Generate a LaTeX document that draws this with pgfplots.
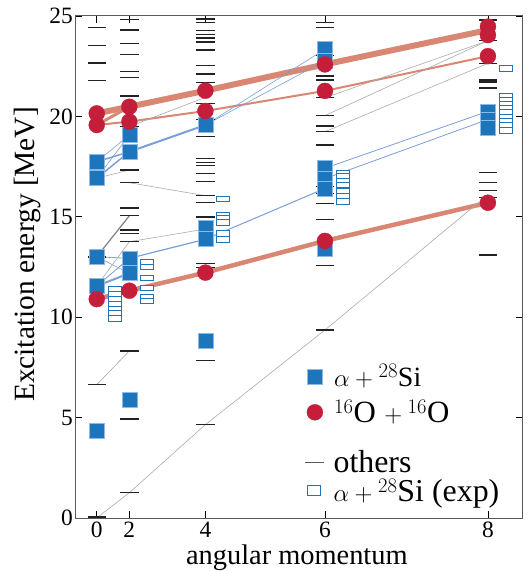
\documentclass[border=0pt]{standalone}
\usepackage{fontspec}
\setmainfont{Liberation Serif}
\usepackage{pgfplots}
\pgfplotsset{compat=1.18}

\definecolor{sqblue}{HTML}{1D75BC}
\definecolor{sqedge}{HTML}{8DB9E2}
\definecolor{cred}{HTML}{C41E3A}
\definecolor{salmon}{HTML}{D98673}
\definecolor{lblue}{HTML}{7A9EDC}
\definecolor{lgray}{HTML}{ABABAB}
\definecolor{dash}{HTML}{222222}
\definecolor{axgray}{HTML}{5A5A5A}

% flat open rectangle for the measured levels
\pgfdeclareplotmark{flatrect}{%
  \pgfpathrectangle{\pgfpoint{-6.5bp}{-2.8bp}}{\pgfpoint{13bp}{5.6bp}}%
  \pgfusepathqfillstroke}
\pgfdeclareplotmark{legrect}{%
  \pgfpathrectangle{\pgfpoint{-6.5bp}{-5bp}}{\pgfpoint{13bp}{10bp}}%
  \pgfusepathqfillstroke}

\pgfplotsset{
  sq/.style={only marks, mark=square*, mark size=7.5bp,
    mark options={fill=sqblue, draw=sqedge, line width=0.6bp}},
  ci/.style={only marks, mark=*, mark size=8bp,
    mark options={fill=cred, draw=cred, line width=0.3bp}},
  oth/.style={only marks, mark=-, mark size=9.2bp,
    mark options={draw=dash, line width=1.4bp}},
  ex/.style={only marks, mark=flatrect,
    mark options={fill=white, draw=sqblue, line width=0.9bp}},
  bl/.style={lblue, line width=#1, forget plot}, bl/.default=0.6bp,
  gl/.style={lgray, line width=#1, forget plot}, gl/.default=0.6bp,
  sal/.style={salmon, line width=#1, forget plot},
  limg/.style={legend image code/.code={%
    \draw[mark repeat=2,mark phase=2,##1] plot coordinates {(0bp,0bp)(7.5bp,0bp)(15bp,0bp)};
    \path (0bp,0bp) (26.5bp,0bp);}},
  base/.style={width=447.7bp, height=502bp, scale only axis,
    xmin=-4, xmax=78.4, ymin=0, ymax=25},
}

\begin{document}
\begin{tikzpicture}
\begin{axis}[base,
  axis line style={axgray, line width=1bp},
  tick style={black, line width=0.8bp},
  major tick length=7bp,
  tick align=inside,
  xtick={0,6,20,42,72}, xticklabels={0,2,4,6,8},
  ytick={0,5,...,25},
  /pgf/number format/assume math mode=true,
  tick label style={font=\fontsize{23.5}{27}\selectfont},
  yticklabel style={inner xsep=2bp},
  xticklabel style={inner ysep=3.5bp, text depth=0pt},
  xlabel={angular momentum},
  ylabel={Excitation energy [MeV]},
  every axis x label/.style={at={(axis description cs:0.462,0)}, anchor=base,
    inner sep=0pt, xshift=15bp, yshift=-46bp, font=\fontsize{28.5}{34}\selectfont},
  every axis y label/.style={at={(axis description cs:-0.107,0.525)}, rotate=90,
    anchor=center, font=\fontsize{29.5}{36}\selectfont},
  legend style={at={(axis description cs:0.5175,0.306)}, anchor=north west,
    draw=none, fill=none, inner sep=0pt, row sep=12bp,
    font=\fontsize{28}{32}\selectfont, nodes={inner sep=0bp}, cells={anchor=west}},
  clip=false,
]
% rotational bands of 16O+16O
\addplot[sal=6bp] coordinates {(0,20.15) (6,20.48) (20,21.28) (42,22.59) (72,24.3)};
\addplot[sal=3bp] coordinates {(0,19.57) (6,20.48)};
\addplot[sal=2bp] coordinates {(0,19.57) (6,19.74) (20,20.27) (42,21.27) (72,23.0)};
\addplot[sal=4.5bp] coordinates {(0,10.9) (6,11.32) (20,12.22) (42,13.8) (72,15.7)};

% links between alpha+28Si states
\addplot[bl] coordinates {(0,17.74) (6,19.07)};
\addplot[bl] coordinates {(0,16.92) (6,19.07)};
\addplot[bl=1.5bp] coordinates {(0,17.74) (6,18.24)};
\addplot[bl=1.5bp] coordinates {(0,16.92) (6,18.24)};
\addplot[bl=2bp] coordinates {(6,18.24) (20,19.57)};
\addplot[bl] coordinates {(20,19.57) (42,23.35)};
\addplot[bl] coordinates {(20,19.57) (42,22.77)};
\addplot[bl=0.8bp] coordinates {(0,13.01) (6,12.93)};
\addplot[bl=0.8bp] coordinates {(0,11.55) (6,12.93)};
\addplot[bl=2bp] coordinates {(0,11.55) (6,12.19)};
\addplot[bl] coordinates {(0,13.01) (6,12.19)};
\addplot[bl=1.2bp] coordinates {(6,12.93) (20,13.88)};
\addplot[bl=1bp] coordinates {(20,13.88) (42,16.41)};
\addplot[bl=0.8bp] coordinates {(42,17.42) (72,20.25)};
\addplot[bl=0.8bp] coordinates {(42,16.9) (72,19.85)};

% links between other states
\addplot[gl] coordinates {(0,0) (6,1.26) (20,4.65) (42,9.36) (72,16.1)};
\addplot[gl] coordinates {(0,6.64) (6,8.32)};
\addplot[gl=1.2bp, gray] coordinates {(0,13.01) (6,15.05)};
\addplot[gl] coordinates {(0,11.55) (6,13.76)};
\addplot[gl] coordinates {(6,13.76) (20,14.39)};
\addplot[gl] coordinates {(0,16.92) (6,17.33)};
\addplot[gl] coordinates {(6,16.70) (20,16.05)};
\addplot[gl] coordinates {(6,19.49) (20,20.95)};
\addplot[gl] coordinates {(42,20.93) (72,23.77)};
\addplot[gl] coordinates {(42,20.04) (72,23.77)};
\addplot[gl] coordinates {(42,19.24) (72,22.64)};

% other levels
\addplot[oth, forget plot] table {
x y
0 24.42
0 23.53
0 22.65
0 21.78
0 13.00
0 6.64
0 0.05
6 24.84
6 24.30
6 23.62
6 23.09
6 22.25
6 21.93
6 21.02
6 19.49
6 17.33
6 16.70
6 15.44
6 15.05
6 14.34
6 14.18
6 13.76
6 8.32
6 4.93
6 1.26
20 24.85
20 24.67
20 24.27
20 24.09
20 23.90
20 23.71
20 23.31
20 22.52
20 22.12
20 21.68
20 20.65
20 19.85
20 18.99
20 17.89
20 17.71
20 17.54
20 17.15
20 16.75
20 16.05
20 15.70
20 14.99
20 12.68
20 12.48
20 7.83
20 4.65
42 24.67
42 24.42
42 23.02
42 22.01
42 21.81
42 20.93
42 20.04
42 19.52
42 19.24
42 18.58
42 16.50
42 16.17
42 15.67
42 14.88
42 12.56
42 9.36
72 24.80
72 23.77
72 22.64
72 21.81
72 21.71
72 21.41
72 17.20
72 16.70
72 16.30
72 15.95
72 13.10
};

% measured alpha+28Si levels
\addplot[ex, forget plot] table {
x y
3.3 11.40
3.3 11.15
3.3 10.90
3.3 10.65
3.3 10.40
3.3 10.20
3.3 9.95
9.3 12.75
9.3 12.50
9.3 11.95
9.3 11.45
9.3 11.00
9.3 10.80
23.3 15.89
23.3 15.09
23.3 14.92
23.3 14.71
23.3 14.18
23.3 13.88
45.3 17.17
45.3 17.00
45.3 16.75
45.3 16.58
45.3 16.25
45.3 16.00
45.3 15.75
75.3 22.40
75.3 21.00
75.3 20.80
75.3 20.60
75.3 20.40
75.3 20.20
75.3 19.95
75.3 19.75
75.3 19.55
75.3 19.30
};

% alpha+28Si
\addplot[sq, forget plot] table {
x y
0 17.74
0 16.92
0 13.01
0 11.55
0 4.33
6 19.07
6 18.24
6 12.93
6 12.19
6 5.88
20 19.57
20 14.47
20 13.88
20 8.83
42 23.35
42 22.77
42 17.42
42 16.90
42 16.41
42 13.43
72 20.25
72 19.85
72 19.45
};

% 16O+16O
\addplot[ci, forget plot] table {
x y
0 20.15
0 19.57
0 10.90
6 20.48
6 19.74
6 11.32
20 21.28
20 20.27
20 12.22
42 22.59
42 21.27
42 13.80
72 24.47
72 24.05
72 23.00
72 15.70
};

\addlegendimage{sq, limg}
\addlegendentry{$\alpha+{}^{28}$Si}
\addlegendimage{ci, limg}
\addlegendentry{\fontsize{31}{34}\selectfont$^{16}$O\hspace{3bp}${}+{}^{16}$O}
\end{axis}

% second legend for the remaining entries
\begin{axis}[base, hide axis,
  legend style={at={(axis description cs:0.5137,0.1355)}, anchor=north west,
    draw=none, fill=none, inner sep=0pt, row sep=5bp,
    font=\fontsize{32}{36}\selectfont, nodes={inner sep=0bp}, cells={anchor=west}},
]
\addlegendimage{oth, mark options={draw=axgray}, limg}
\addlegendentry{others}
\addlegendimage{only marks, mark=legrect, mark options={fill=white, draw=sqblue, line width=0.9bp}, limg}
\addlegendentry{$\alpha+{}^{28}$Si (exp)}
\end{axis}

\pgfresetboundingbox
\path[use as bounding box] (-75bp,-53bp) rectangle (456bp,518bp);
\end{tikzpicture}
\end{document}
